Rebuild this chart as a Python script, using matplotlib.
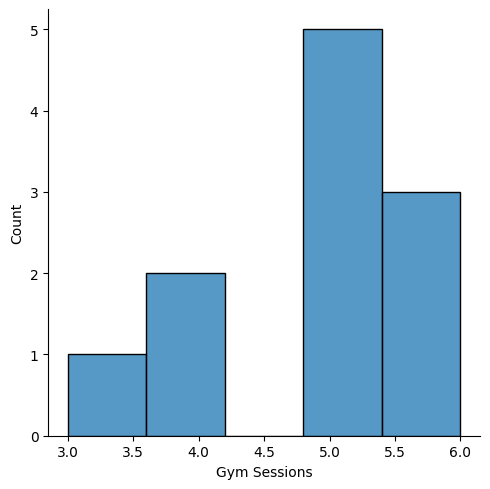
import matplotlib
matplotlib.use("Agg")
import matplotlib.pyplot as plt
import seaborn as sns
import pandas as pd

session_values = [3, 4, 5, 6]
session_counts = [1, 2, 5, 3]

gym_sessions = [v for v, c in zip(session_values, session_counts) for _ in range(c)]
df = pd.DataFrame({"Gym Sessions": gym_sessions})

g = sns.displot(data=df, x="Gym Sessions", bins=5, height=5)
g.savefig("out.png", dpi=100)
